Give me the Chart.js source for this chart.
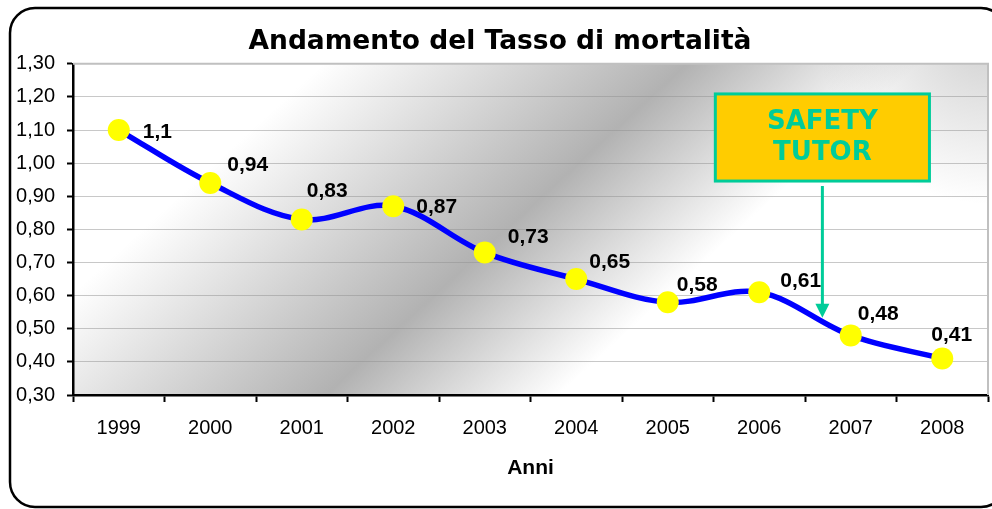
<!DOCTYPE html>
<html lang="it">
<head>
<meta charset="UTF-8">
<title>Andamento del Tasso di mortalità</title>
<script src="https://cdn.jsdelivr.net/npm/chart.js"></script>
<style>
  html, body { margin: 0; padding: 0; background: #fff; overflow: hidden; }
  #wrap { width: 992px; height: 509px; }
  canvas { display: block; }
</style>
</head>
<body>
<div id="wrap"><canvas id="grafico" width="992" height="509"></canvas></div>
<script>
// dati
const anni = ['1999', '2000', '2001', '2002', '2003', '2004', '2005', '2006', '2007', '2008'];
const tasso = [1.1, 0.94, 0.83, 0.87, 0.73, 0.65, 0.58, 0.61, 0.48, 0.41];
const yMin = 0.3;
const yMax = 1.3;
const yStep = 0.1;

// spostamento delle etichette rispetto al punto (dx, dy in px)
const spostEtichette = [[24, 1], [17, -19], [5, -29], [23, 0], [23, -16], [13, -18], [9, -18], [21, -12], [7, -22], [-11, -24]];

// riquadro "SAFETY TUTOR" e freccia, in coordinate degli assi
const nota = { testo: ['SAFETY', 'TUTOR'], x1: 6.52, x2: 8.86, y1: 1.209, y2: 0.946 };
const freccia = { x: 7.69, yDa: 0.931, yA: 0.533 };

const virgola = v => String(v).replace('.', ',');

const sfondo = {
  id: 'sfondo',
  beforeDraw(chart) {
    const ctx = chart.ctx;
    const ca = chart.chartArea;
    const w = ca.right - ca.left;
    const h = ca.bottom - ca.top;
    ctx.save();
    ctx.fillStyle = '#fff';
    ctx.fillRect(0, 0, chart.width, chart.height);
    // sfumatura diagonale dell'area del grafico
    const g = ctx.createLinearGradient(0, 0, 664, 725);
    g.addColorStop(0, '#ffffff');
    g.addColorStop(0.27, '#ffffff');
    g.addColorStop(0.52, '#b2b2b2');
    g.addColorStop(0.68, '#ffffff');
    g.addColorStop(1, '#ffffff');
    ctx.fillStyle = g;
    ctx.fillRect(ca.left, ca.top, w, h);
    // velatura grigia nell'angolo in alto a destra
    const r = ctx.createRadialGradient(ca.right, ca.top - 30, 0, ca.right, ca.top - 30, 170);
    r.addColorStop(0, 'rgba(170,170,170,0.55)');
    r.addColorStop(1, 'rgba(170,170,170,0)');
    ctx.fillStyle = r;
    ctx.fillRect(ca.left, ca.top, w, h);
    // cornice arrotondata
    ctx.strokeStyle = '#000';
    ctx.lineWidth = 2.5;
    ctx.beginPath();
    ctx.roundRect(10, 8, 996, 499, 25);
    ctx.stroke();
    ctx.restore();
  },
  beforeDatasetsDraw(chart) {
    const ctx = chart.ctx;
    const ca = chart.chartArea;
    ctx.save();
    ctx.strokeStyle = '#c0c0c0';
    ctx.lineWidth = 2;
    ctx.beginPath();
    ctx.moveTo(ca.left, ca.top);
    ctx.lineTo(ca.right, ca.top);
    ctx.lineTo(ca.right, ca.bottom);
    ctx.stroke();
    ctx.restore();
  }
};

const etichette = {
  id: 'etichette',
  afterDatasetsDraw(chart) {
    const ctx = chart.ctx;
    const xs = chart.scales.x;
    const ys = chart.scales.y;
    ctx.save();

    // valori
    ctx.font = 'bold 21px "Liberation Sans", Arial, sans-serif';
    ctx.fillStyle = '#000';
    ctx.textAlign = 'left';
    ctx.textBaseline = 'middle';
    chart.getDatasetMeta(0).data.forEach((p, i) => {
      const [dx, dy] = spostEtichette[i];
      ctx.fillText(virgola(tasso[i]), p.x + dx, p.y + dy + 1);
    });

    // freccia
    const fx = xs.getPixelForValue(freccia.x);
    const fy1 = ys.getPixelForValue(freccia.yDa);
    const fy2 = ys.getPixelForValue(freccia.yA);
    ctx.strokeStyle = '#00cc99';
    ctx.fillStyle = '#00cc99';
    ctx.lineWidth = 3;
    ctx.beginPath();
    ctx.moveTo(fx, fy1);
    ctx.lineTo(fx, fy2 - 12);
    ctx.stroke();
    ctx.beginPath();
    ctx.moveTo(fx - 7, fy2 - 14);
    ctx.lineTo(fx + 7, fy2 - 14);
    ctx.lineTo(fx, fy2);
    ctx.closePath();
    ctx.fill();

    // riquadro
    const bx1 = xs.getPixelForValue(nota.x1);
    const bx2 = xs.getPixelForValue(nota.x2);
    const by1 = ys.getPixelForValue(nota.y1);
    const by2 = ys.getPixelForValue(nota.y2);
    ctx.fillStyle = '#ffcc00';
    ctx.fillRect(bx1, by1, bx2 - bx1, by2 - by1);
    ctx.strokeStyle = '#00cc99';
    ctx.lineWidth = 3;
    ctx.strokeRect(bx1, by1, bx2 - bx1, by2 - by1);
    ctx.fillStyle = '#00cc99';
    ctx.font = 'bold 26px "DejaVu Sans", Verdana, sans-serif';
    ctx.textAlign = 'center';
    const cx = (bx1 + bx2) / 2;
    const cy = (by1 + by2) / 2;
    ctx.fillText(nota.testo[0], cx, cy - 15);
    ctx.fillText(nota.testo[1], cx, cy + 16);
    ctx.restore();
  }
};

new Chart(document.getElementById('grafico'), {
  type: 'line',
  data: {
    labels: anni,
    datasets: [{
      label: 'Tasso di mortalità',
      data: tasso,
      borderColor: '#0000ff',
      borderWidth: 5.5,
      tension: 0.35,
      pointRadius: 11,
      pointHoverRadius: 11,
      pointBackgroundColor: '#ffff00',
      pointBorderColor: '#ffff00',
      pointBorderWidth: 0
    }]
  },
  options: {
    responsive: false,
    animation: false,
    events: [],
    layout: { autoPadding: false, padding: { left: 12, right: 4, top: 0, bottom: 8 } },
    plugins: {
      legend: { display: false },
      tooltip: { enabled: false },
      title: {
        display: true,
        text: 'Andamento del Tasso di mortalità',
        color: '#000',
        font: { family: '"DejaVu Sans", Verdana, sans-serif', size: 26.5, weight: 'bold', lineHeight: 1.2 },
        padding: { top: 26, bottom: 6 }
      }
    },
    scales: {
      x: {
        offset: true,
        grid: { drawOnChartArea: false, drawTicks: true, tickLength: 7, tickColor: '#000', tickWidth: 2, offset: true },
        border: { color: '#000', width: 2.5 },
        ticks: { color: '#000', padding: 14, font: { family: '"Liberation Sans", Arial, sans-serif', size: 20 } },
        title: {
          display: true,
          text: 'Anni',
          color: '#000',
          font: { family: '"Liberation Sans", Arial, sans-serif', size: 21, weight: 'bold', lineHeight: 1.2 },
          padding: { top: 0, bottom: 20 }
        },
        afterFit(scale) { scale.height = 106; }
      },
      y: {
        min: yMin,
        max: yMax,
        grid: { color: '#909090', lineWidth: 1, drawTicks: true, tickLength: 6, tickColor: '#000', tickWidth: 2, tickBorderDash: [] },
        border: { color: '#000', width: 2.5, dash: [1, 1] },
        ticks: {
          stepSize: yStep,
          color: '#000',
          padding: 12,
          font: { family: '"Liberation Sans", Arial, sans-serif', size: 20 },
          callback: v => v.toFixed(2).replace('.', ',')
        },
        afterFit(scale) { scale.width = 61; }
      }
    }
  },
  plugins: [sfondo, etichette]
});
</script>
</body>
</html>
